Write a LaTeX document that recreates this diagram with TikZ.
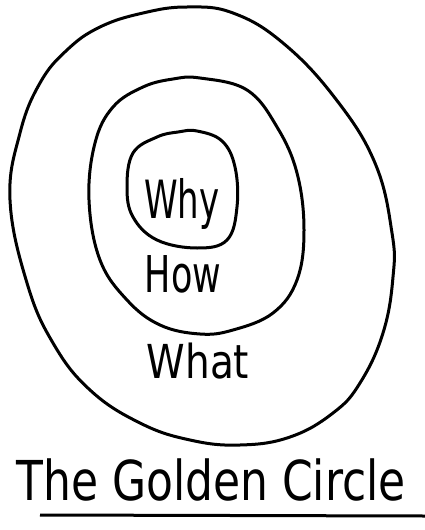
\documentclass[tikz,border=0pt]{standalone}
\usepackage{fontspec}
\usepackage{graphicx}
\setmainfont{DejaVu Sans}
\tikzset{
  ring/.style={draw=black, line width=3pt, line join=round},
  hand/.style={inner sep=0pt, anchor=base, text=black},
}
\begin{document}
\begin{tikzpicture}[x=1pt, y=-1pt]
\useasboundingbox (0,0) rectangle (425,530);
% outer ring
\draw[ring] plot[smooth cycle, tension=0.7] coordinates {
 (187,7) (233,13) (283,43) (335,98) (375,163) (392,233) (393,277) (383,333)
 (360,383) (333,413) (290,437) (240,445) (190,440) (140,423) (90,390) (53,343)
 (27,283) (10,200) (20,133) (40,83) (67,50) (100,27) (143,13)};
% middle ring
\draw[ring] plot[smooth cycle, tension=0.65] coordinates {
 (200,78) (247,90) (277,127) (297,173) (304,230) (297,280) (273,313) (233,330)
 (200,334) (160,325) (127,300) (100,260) (89,200) (95,143) (113,107) (143,87) (173,79)};
% inner ring
\draw[ring] plot[smooth cycle, tension=0.65] coordinates {
 (197,131) (222,141) (235,167) (237,207) (227,240) (197,248) (157,240)
 (133,217) (127,187) (133,153) (157,137) (178,132)};
% labels
\node[hand] (why) at (182,218) {\scalebox{1}[1.55]{\fontsize{34}{36}\selectfont Why}};
\node[hand] (how) at (183,292) {\scalebox{1}[1.45]{\fontsize{35}{38}\selectfont How}};
\node[hand] (what) at (198,378) {\scalebox{1}[1.2]{\fontsize{39}{40}\selectfont What}};
\node[hand] (title) at (211,500) {\scalebox{1}[1.25]{\fontsize{44}{46}\selectfont The Golden Circle}};
% underline
\coordinate (ulA) at (40,515);
\coordinate (ulB) at (425,516);
\draw[line width=3pt] (ulA) -- (ulB);
\end{tikzpicture}
\end{document}
